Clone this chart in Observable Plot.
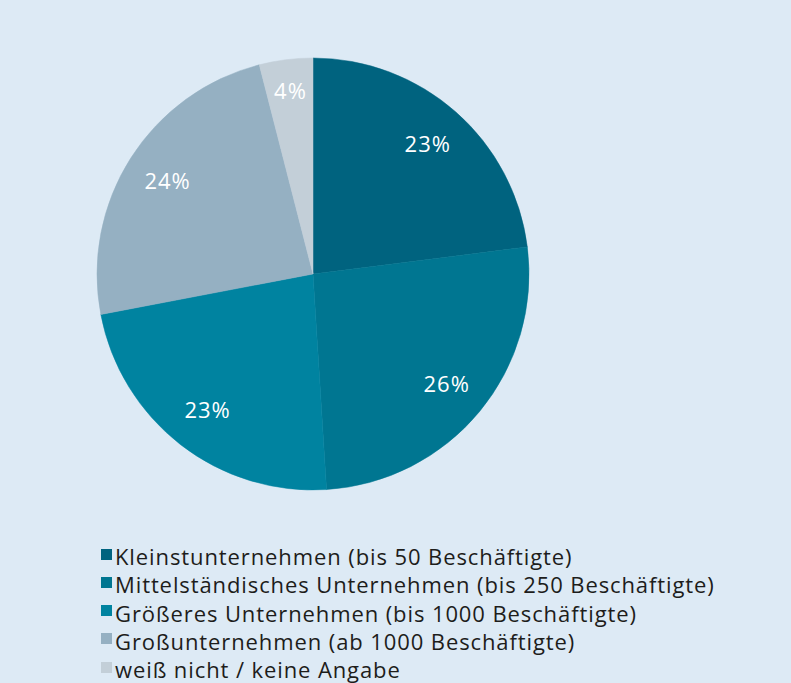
<!DOCTYPE html>
<html>
<head>
<meta charset="utf-8">
<script src="https://cdn.jsdelivr.net/npm/d3@7"></script>
<script src="https://cdn.jsdelivr.net/npm/@observablehq/plot@0.6"></script>
<style>
  html, body { margin: 0; padding: 0; background: #ddeaf5; }
  #chart { width: 791px; }
  .legend { padding: 12px 0 0 101px; font-family: "Open Sans", sans-serif; font-size: 22px; line-height: 28.3px; color: #1d1d1b; letter-spacing: 0.9px; }
  .legend div { white-space: nowrap; height: 28.3px; }
  .legend span.sw { display: inline-block; width: 11px; height: 11px; margin-right: 3px; vertical-align: 5.5px; }
  .legend span.tx { display: inline-block; height: 28.3px; line-height: 28.3px; overflow: visible; }
</style>
</head>
<body>
<div id="chart"></div>
<script>
const categories = [
  "Kleinstunternehmen (bis 50 Beschäftigte)",
  "Mittelständisches Unternehmen (bis 250 Beschäftigte)",
  "Größeres Unternehmen (bis 1000 Beschäftigte)",
  "Großunternehmen (ab 1000 Beschäftigte)",
  "weiß nicht / keine Angabe"
];
const shares = [23, 26, 23, 24, 4];
const shareLabels = ["23%", "26%", "23%", "24%", "4%"];
const colors = ["#00637f", "#007691", "#0083a0", "#95b0c2", "#c3cfd8"];

const data = categories.map((c, i) => ({category: c, value: shares[i], label: shareLabels[i], color: colors[i]}));
const arcs = d3.pie().sort(null).value(d => d.value)(data);
const labelData = arcs.map(a => {
  const mid = (a.startAngle + a.endAngle) / 2;
  const r = a.data.value < 5 ? 0.85 : 0.8;
  return {x: r * Math.sin(mid), y: r * Math.cos(mid), label: a.data.label};
});

const slices = (index, scales) => {
  const cx = scales.x(0), cy = scales.y(0), r = scales.x(1) - scales.x(0);
  const g = d3.create("svg:g").attr("transform", `translate(${cx},${cy})`);
  const arcGen = d3.arc().innerRadius(0).outerRadius(r);
  g.selectAll("path").data(arcs).join("path")
    .attr("d", arcGen)
    .attr("fill", d => d.data.color)
    .attr("stroke", d => d.data.color)
    .attr("stroke-width", 0.5);
  return g.node();
};

const chart = Plot.plot({
  width: 791,
  height: 530,
  marginLeft: 97,
  marginRight: 262,
  marginTop: 58,
  marginBottom: 40,
  style: {background: "transparent"},
  x: {domain: [-1, 1], axis: null},
  y: {domain: [-1, 1], axis: null},
  marks: [
    slices,
    Plot.text(labelData, {x: "x", y: "y", text: "label", fill: "white", fontSize: 22, fontFamily: "Open Sans, sans-serif"})
  ]
});
chart.querySelectorAll("text").forEach(t => t.style.letterSpacing = "1px");
document.getElementById("chart").appendChild(chart);

const legend = d3.select("#chart").append("div").attr("class", "legend");
const items = legend.selectAll("div").data(data).join("div");
items.append("span").attr("class", "sw").style("background", d => d.color);
items.append("span").attr("class", "tx").text(d => d.category);
</script>
</body>
</html>
